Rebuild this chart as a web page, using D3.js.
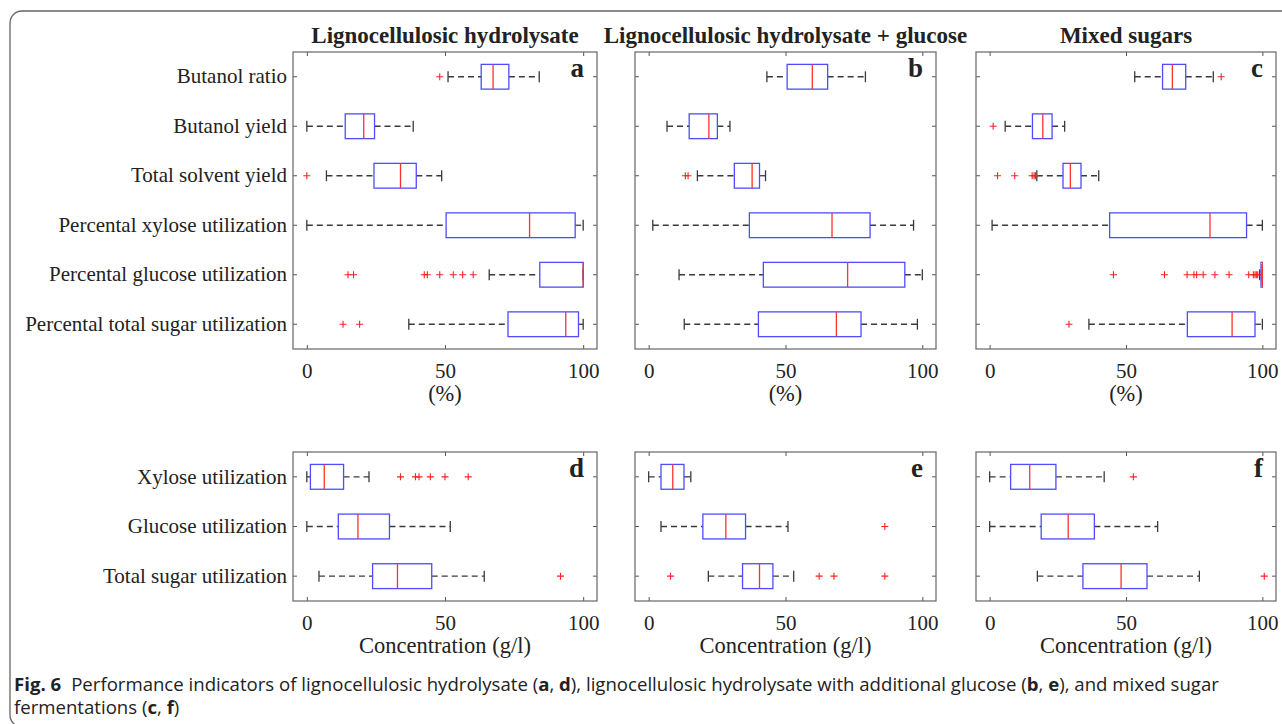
<!DOCTYPE html>
<html lang="en">
<head>
<meta charset="UTF-8">
<title>Fig. 6</title>
<script src="https://cdn.jsdelivr.net/npm/d3@7/dist/d3.min.js"></script>
<style>
  body{margin:0;background:#fff}
  svg text{font-family:"Liberation Serif","Times New Roman",serif;fill:#222}
  .cap text{font-family:"Open Sans","Noto Sans",sans-serif}
</style>
</head>
<body>
<svg id="chart" width="1282" height="724"></svg>
<script>
// categories
const pctRows=['Butanol ratio','Butanol yield','Total solvent yield','Percental xylose utilization','Percental glucose utilization','Percental total sugar utilization']
const concRows=['Xylose utilization','Glucose utilization','Total sugar utilization']
const titles=['Lignocellulosic hydrolysate','Lignocellulosic hydrolysate + glucose','Mixed sugars']
const letters=['a','b','c','d','e','f']
const xTicks=[0,50,100]

// [lower whisker, q1, median, q3, upper whisker]
const statsA=[[51.1,63.1,67.4,73.1,84.1],[0,13.9,20.6,24.5,38.5],[7.1,24.3,33.9,39.6,48.8],[0,50.4,80.6,97.1,100],[66,84.3,100,100,100],[36.9,72.8,93.7,98.3,100]]
const outA=[[48.1],[],[0],[],[14.9,16.9,42.5,43.6,48.1,53,56.4,60.2],[13.1,19.1]]
const statsB=[[43.2,50.6,59.8,65.4,79.2],[6.7,14.8,22,25.1,29.7],[17.8,31.3,37.8,40.5,42.7],[1.5,36.8,67,80.9,96.8],[11.1,41.9,72.7,93.6,100],[13,40.1,68.6,77.6,98.2]]
const outB=[[],[],[13.4,14.4],[],[],[]]
const statsC=[[53.2,63.4,67,71.9,82],[5.7,15.7,19.5,22.9,27.5],[17.3,26.9,29.6,33.5,40],[0.9,44,80.8,94.2,100],[99,99.5,100,100,100],[36.4,72.5,88.9,97.3,100]]
const outC=[[84.9],[1.3],[2.9,9.2,15.6,16.3,16.8],[],[45.4,64.1,72.4,74.9,75.9,78.3,82.6,87.8,95,96.7,97.3,97.8,98.3],[29.1]]
const statsD=[[0,1.3,6.3,13.3,22.5],[0,11.4,18.5,29.9,51.9],[4.4,23.8,32.8,45.2,64.2]]
const outD=[[33.9,39.3,40.6,44.7,50,58.4],[],[91.8]]
const statsE=[[0,4.5,8.8,12.9,15.4],[4.5,19.8,28.2,35.4,50.9],[21.8,34.3,40.5,45.4,53]]
const outE=[[],[86.3],[8,62.3,67.7,86.3]]
const statsF=[[0,7.7,14.7,24.3,42],[0,18.9,28.8,38.4,61.6],[17.5,34.2,48.2,57.7,76.9]]
const outF=[[52.7],[],[100.7]]

const svg=d3.select('#chart')
const cols=[[293,597],[635,936],[976,1276]]
const topY=[52,349], botY=[452,601]

// outer frame
svg.append('rect').attr('x',10).attr('y',11).attr('width',1320).attr('height',716).attr('rx',12)
  .attr('fill','none').attr('stroke','#666').attr('stroke-width',1.3)

titles.forEach((t,i)=>{
  svg.append('text').attr('x',(cols[i][0]+cols[i][1])/2).attr('y',43).attr('text-anchor','middle')
    .attr('font-size',23).attr('font-weight','bold').attr('fill','#111').text(t)
})

function drawPanel(i,rows,stats,outs,yr,xlabel){
  const col=i%3
  const x=d3.scaleLinear().domain([-5,105]).range(cols[col])
  const y=d3.scaleBand().domain(rows).range(yr)
  const bw=y.bandwidth(), h=bw*0.5
  const g=svg.append('g')

  const ax=(a)=>a.call(s=>s.select('.domain').remove()).call(s=>s.selectAll('line').attr('stroke','#555'))
  g.append('g').attr('transform',`translate(0,${yr[1]})`)
    .call(d3.axisBottom(x).tickValues(xTicks).tickSize(-4).tickPadding(14))
    .call(ax).call(s=>s.selectAll('text').attr('font-size',21).attr('font-family',null).attr('fill','#222'))
  g.append('g').attr('transform',`translate(0,${yr[0]})`)
    .call(d3.axisTop(x).tickValues(xTicks).tickSize(-4).tickFormat('')).call(ax)
  const left=d3.axisLeft(y).tickSize(-4).tickPadding(6)
  if(col>0) left.tickFormat('')
  g.append('g').attr('transform',`translate(${cols[col][0]},0)`).call(left)
    .call(ax).call(s=>s.selectAll('text').attr('font-size',21).attr('font-family',null).attr('fill','#222'))
  g.append('g').attr('transform',`translate(${cols[col][1]},0)`)
    .call(d3.axisRight(y).tickSize(-4).tickFormat('')).call(ax)

  g.append('rect').attr('x',cols[col][0]).attr('y',yr[0])
    .attr('width',cols[col][1]-cols[col][0]).attr('height',yr[1]-yr[0])
    .attr('fill','none').attr('stroke','#666').attr('stroke-width',1.2)

  rows.forEach((r,k)=>{
    const [lo,q1,md,q3,hi]=stats[k]
    const cy=y(r)+bw/2
    const b=g.append('g')
    b.selectAll('line.wh').data([[lo,q1],[q3,hi]]).join('line').attr('class','wh')
      .attr('x1',d=>x(d[0])).attr('x2',d=>x(d[1])).attr('y1',cy).attr('y2',cy)
      .attr('stroke','#3a3a3a').attr('stroke-width',1.3).attr('stroke-dasharray','6,4')
    b.selectAll('line.cap').data([lo,hi]).join('line').attr('class','cap')
      .attr('x1',d=>x(d)).attr('x2',d=>x(d)).attr('y1',cy-h*0.22).attr('y2',cy+h*0.22)
      .attr('stroke','#3a3a3a').attr('stroke-width',1.3)
    b.append('rect').attr('x',x(q1)).attr('y',cy-h/2).attr('width',Math.max(x(q3)-x(q1),0.5)).attr('height',h)
      .attr('fill','none').attr('stroke','#4d4dff').attr('stroke-width',1.3)
    b.append('line').attr('x1',x(md)).attr('x2',x(md)).attr('y1',cy-h/2).attr('y2',cy+h/2)
      .attr('stroke','#ff3030').attr('stroke-width',1.3)
    b.selectAll('path.out').data(outs[k]).join('path').attr('class','out')
      .attr('d',d=>`M${x(d)-3.5},${cy}h7M${x(d)},${cy-3.5}v7`)
      .attr('stroke','#ff2020').attr('stroke-width',1.1).attr('fill','none')
  })

  g.append('text').attr('x',cols[col][1]-13).attr('y',yr[0]+25).attr('text-anchor','end')
    .attr('font-size',27).attr('font-weight','bold').attr('fill','#111').text(letters[i])
  g.append('text').attr('x',(cols[col][0]+cols[col][1])/2).attr('y',yr[1]+52).attr('text-anchor','middle')
    .attr('font-size',22.5).text(xlabel)
}

drawPanel(0,pctRows,statsA,outA,topY,'(%)')
drawPanel(1,pctRows,statsB,outB,topY,'(%)')
drawPanel(2,pctRows,statsC,outC,topY,'(%)')
drawPanel(3,concRows,statsD,outD,botY,'Concentration (g/l)')
drawPanel(4,concRows,statsE,outE,botY,'Concentration (g/l)')
drawPanel(5,concRows,statsF,outF,botY,'Concentration (g/l)')

// caption
const cap=svg.append('g').attr('class','cap')
const l1=cap.append('text').attr('x',14).attr('y',691).attr('font-size',18.6).attr('fill','#222')
l1.append('tspan').attr('font-weight','bold').text('Fig. 6')
l1.append('tspan').attr('dx',10).text('Performance indicators of lignocellulosic hydrolysate (')
l1.append('tspan').attr('font-weight','bold').text('a')
l1.append('tspan').text(', ')
l1.append('tspan').attr('font-weight','bold').text('d')
l1.append('tspan').text('), lignocellulosic hydrolysate with additional glucose (')
l1.append('tspan').attr('font-weight','bold').text('b')
l1.append('tspan').text(', ')
l1.append('tspan').attr('font-weight','bold').text('e')
l1.append('tspan').text('), and mixed sugar')
const l2=cap.append('text').attr('x',14).attr('y',714).attr('font-size',18.6).attr('fill','#222')
l2.append('tspan').text('fermentations (')
l2.append('tspan').attr('font-weight','bold').text('c')
l2.append('tspan').text(', ')
l2.append('tspan').attr('font-weight','bold').text('f')
l2.append('tspan').text(')')
</script>
</body>
</html>
